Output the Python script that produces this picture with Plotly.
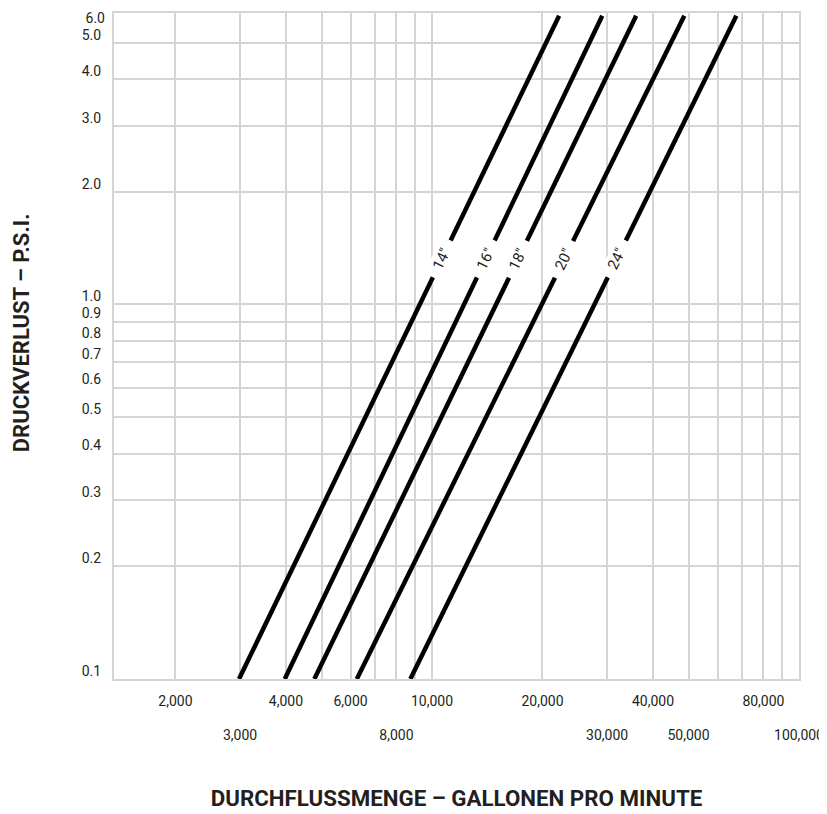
import math
import plotly.graph_objects as go

# ---------------- data ----------------
pipe_sizes = ['14"', '16"', '18"', '20"', '24"']
psi_low = 0.1
psi_high = 5.9
flow_at_psi_low = [2980, 3970, 4780, 6240, 8730]        # GPM where each line meets 0.1 psi
flow_at_psi_high = [22200, 29100, 36000, 48700, 67500]  # GPM where each line meets 5.9 psi
label_psi = 1.32

x_grid_vals = [2000, 3000, 4000, 5000, 6000, 7000, 8000, 9000,
               10000, 20000, 30000, 40000, 50000, 60000, 70000, 80000, 90000, 100000]
x_row1_labels = {2000: "2,000", 4000: "4,000", 6000: "6,000", 10000: "10,000",
                 20000: "20,000", 40000: "40,000", 80000: "80,000"}
x_row2_vals = [3000, 8000, 30000, 50000, 100000]
x_row2_text = ["3,000", "8,000", "30,000", "50,000", "100,000"]

y_tick_vals = [0.1, 0.2, 0.3, 0.4, 0.5, 0.6, 0.7, 0.8, 0.9, 1.0, 2.0, 3.0, 4.0, 5.0, 6.0]
y_tick_text = ["0.1", "0.2", "0.3", "0.4", "0.5", "0.6", "0.7", "0.8", "0.9",
               "1.0", "2.0", "3.0", "4.0", "5.0", ""]
y_top_val = [6.0]
y_top_text = ["6.0"]

x_title = "DURCHFLUSSMENGE – GALLONEN PRO MINUTE"
y_title = "DRUCKVERLUST – P.S.I."

# ---------------- style ----------------
GRID = "#d5d5d5"
FONT = "Roboto"
TXT = "#231f20"
x_range = [math.log10(1360), 5]
y_range = [-1, math.log10(6)]

fig = go.Figure()

for name, q0, q1 in zip(pipe_sizes, flow_at_psi_low, flow_at_psi_high):
    fig.add_trace(go.Scatter(
        x=[q0, q1], y=[psi_low, psi_high], mode="lines", name=name,
        line=dict(color="black", width=4.5), hoverinfo="x+y+name",
    ))

# invisible carrier traces for the secondary label axes
fig.add_trace(go.Scatter(x=x_row2_vals, y=[None] * len(x_row2_vals), xaxis="x2",
                         mode="lines", showlegend=False, hoverinfo="skip"))
fig.add_trace(go.Scatter(x=[None], y=y_top_val, yaxis="y2",
                         mode="lines", showlegend=False, hoverinfo="skip"))

# white band behind the size labels (hides grid, under lines)
fig.add_shape(type="rect", xref="paper", yref="paper",
              x0=0.417, x1=0.768, y0=0.5916, y1=0.6697,
              fillcolor="white", line=dict(width=0), layer="between")

# size labels along each line
ly = math.log10(label_psi)
for name, q0, q1 in zip(pipe_sizes, flow_at_psi_low, flow_at_psi_high):
    t = (ly - math.log10(psi_low)) / (math.log10(psi_high) - math.log10(psi_low))
    lx = math.log10(q0) + t * (math.log10(q1) - math.log10(q0))
    fig.add_annotation(x=lx, y=ly, xref="x", yref="y", text=name, showarrow=False,
                       textangle=-64, bgcolor="white", width=40, borderpad=0,
                       font=dict(family=FONT, size=15, color=TXT))

# y axis title
fig.add_annotation(x=-0.1355, y=0.5195, xref="paper", yref="paper", text=y_title,
                   showarrow=False, textangle=-90, xanchor="center", yanchor="middle",
                   font=dict(family=FONT, size=22, color=TXT, weight="bold"))

tick_font = dict(family=FONT, size=14, color=TXT)

fig.update_layout(
    width=819, height=806,
    margin=dict(l=106, r=28, t=5, b=135, pad=0),
    plot_bgcolor="white", paper_bgcolor="white",
    showlegend=False,
    font=dict(family=FONT, size=14, color=TXT),
    xaxis=dict(
        type="log", range=x_range,
        tickvals=x_grid_vals,
        ticktext=[x_row1_labels.get(v, "") for v in x_grid_vals],
        ticks="", ticklabelstandoff=8,
        showgrid=True, gridcolor=GRID, gridwidth=2,
        showline=True, linecolor=GRID, linewidth=2, mirror=True,
        zeroline=False, automargin=False,
        tickfont=tick_font,
        title=dict(text=x_title, standoff=83,
                   font=dict(family=FONT, size=22.3, color=TXT, weight="bold")),
    ),
    xaxis2=dict(
        type="log", range=x_range, overlaying="x", anchor="y", side="bottom",
        tickvals=x_row2_vals, ticktext=x_row2_text,
        ticks="", ticklabelstandoff=46,
        showgrid=False, showline=False, zeroline=False, automargin=False,
        tickfont=tick_font,
    ),
    yaxis=dict(
        type="log", range=y_range,
        tickvals=y_tick_vals, ticktext=y_tick_text,
        ticks="", ticklabelstandoff=8, ticklabelshift=-8,
        showgrid=True, gridcolor=GRID, gridwidth=2,
        showline=True, linecolor=GRID, linewidth=2, mirror=True,
        zeroline=False, automargin=False,
        tickfont=tick_font,
    ),
    yaxis2=dict(
        type="log", range=y_range, overlaying="y", anchor="x", side="left",
        tickvals=y_top_val, ticktext=y_top_text,
        ticks="", ticklabelstandoff=8, ticklabelshift=5,
        ticklabeloverflow="allow",
        showgrid=False, showline=False, zeroline=False, automargin=False,
        tickfont=tick_font,
    ),
)

fig.write_html("out.html")
